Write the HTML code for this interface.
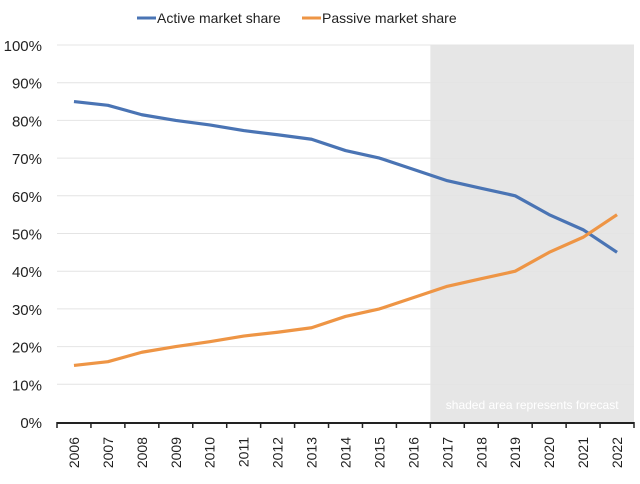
<!DOCTYPE html>
<html><head><meta charset="utf-8"><style>
body{margin:0;background:#fff;font-family:"Liberation Sans",Arial,sans-serif}
svg text{font-family:"Liberation Sans",Arial,sans-serif}
</style></head><body>
<svg id="chart" width="640" height="479" xmlns="http://www.w3.org/2000/svg">
<rect width="640" height="479" fill="#fff"/>
<g id="grid"></g><g id="lines"></g><g id="axes"></g>
<g>
<line x1="137" y1="18" x2="156" y2="18" stroke="#4a74b4" stroke-width="3"/>
<text x="157" y="23" font-size="14" fill="#222">Active market share</text>
<line x1="302" y1="18" x2="321" y2="18" stroke="#ee9545" stroke-width="3"/>
<text x="322" y="23" font-size="14" fill="#222">Passive market share</text>
</g>
</svg>
<script>
const years=["2006","2007","2008","2009","2010","2011","2012","2013","2014","2015","2016","2017","2018","2019","2020","2021","2022"];
const active=[85,84,81.5,80,78.8,77.3,76.2,75,72,70,67,64,62,60,55,51,45];
const passive=[15,16,18.5,20,21.3,22.8,23.8,25,28,30,33,36,38,40,45,49,55];
const yTicks=[0,10,20,30,40,50,60,70,80,90,100];
const forecastStart=11;
const NS="http://www.w3.org/2000/svg";
const L=57,R=634,T=45,B=422;
const bw=(R-L)/years.length;
const x=i=>L+bw*(i+0.5);
const y=v=>B-(B-T)*v/100;
function mk(tag,attrs,parent){const e=document.createElementNS(NS,tag);for(const k in attrs)e.setAttribute(k,attrs[k]);parent.appendChild(e);return e;}
const grid=document.getElementById('grid'),lines=document.getElementById('lines'),axes=document.getElementById('axes');
const sh=mk('rect',{x:L+bw*forecastStart,y:T,width:R-(L+bw*forecastStart),height:B-T,fill:'#e6e6e6'},grid);


yTicks.forEach(v=>{
 if(v>0){const g=mk('line',{x1:L,x2:R,y1:y(v),y2:y(v),stroke:'#e4e4e4','stroke-width':1},grid);
 
 }
 const t=mk('text',{x:42,y:y(v)+6,'font-size':15,'text-anchor':'end',fill:'#222'},axes);t.textContent=v+'%';
 
 
});
const note=mk('text',{x:(L+bw*forecastStart+R)/2,y:409,'font-size':12,'text-anchor':'middle',fill:'#fff'},grid);
note.textContent='shaded area represents forecast';


function series(vals,color,name){
 const p=mk('polyline',{points:vals.map((v,i)=>x(i)+','+y(v)).join(' '),fill:'none',stroke:color,'stroke-width':3.2,'stroke-linejoin':'round'},lines);
 
 
}
series(active,'#4a74b4','active-line');
series(passive,'#ee9545','passive-line');
const ax=mk('line',{x1:L,x2:R,y1:B+1,y2:B+1,stroke:'#222','stroke-width':2},axes);


for(let i=0;i<=years.length;i++){mk('line',{x1:L+bw*i,x2:L+bw*i,y1:B,y2:B+6,stroke:'#222','stroke-width':1.5},axes);}
years.forEach((yr,i)=>{
 const t=mk('text',{x:0,y:0,'font-size':14,'text-anchor':'end',fill:'#222',transform:`translate(${x(i)+5},437) rotate(-90)`},axes);
 t.textContent=yr;
 
 
});
</script>
</body></html>
